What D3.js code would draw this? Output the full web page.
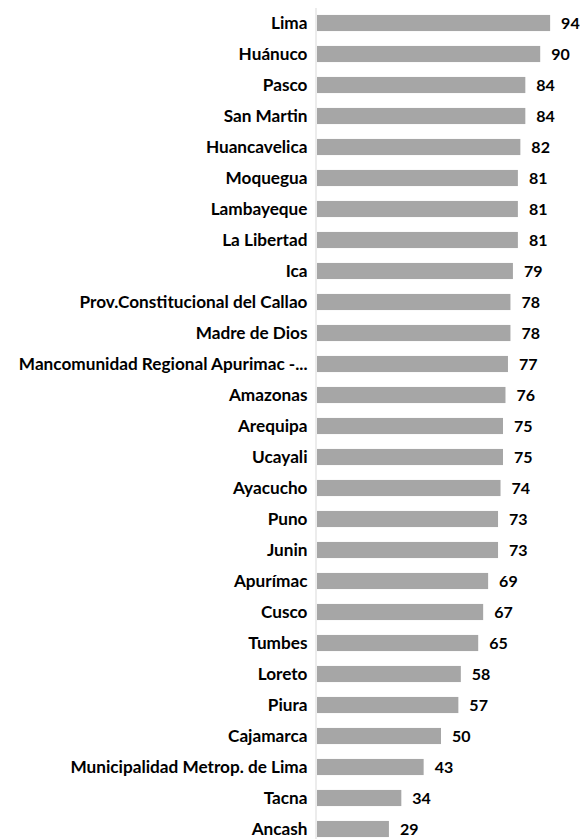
<!DOCTYPE html>
<html>
<head>
<meta charset="utf-8">
<script src="https://cdn.jsdelivr.net/npm/d3@7"></script>
<style>
  html, body { margin: 0; padding: 0; background: #fff; }
  svg { display: block; }
  text { font-family: Lato, "Open Sans", sans-serif; font-weight: 700; fill: #000; }
</style>
</head>
<body>
<svg id="chart" width="580" height="839"></svg>
<script>
// Regions, ordered from highest to lowest score
const regions = [
  "Lima", "Huánuco", "Pasco", "San Martin", "Huancavelica", "Moquegua",
  "Lambayeque", "La Libertad", "Ica", "Prov.Constitucional del Callao",
  "Madre de Dios", "Mancomunidad Regional Apurimac -...", "Amazonas",
  "Arequipa", "Ucayali", "Ayacucho", "Puno", "Junin", "Apurímac", "Cusco",
  "Tumbes", "Loreto", "Piura", "Cajamarca", "Municipalidad Metrop. de Lima",
  "Tacna", "Ancash"
];
const scores = [
  94, 90, 84, 84, 82, 81, 81, 81, 79, 78, 78, 77, 76, 75, 75, 74, 73, 73,
  69, 67, 65, 58, 57, 50, 43, 34, 29
];
const xDomain = [0, 100];

const data = regions.map((name, i) => ({ name, value: scores[i] }));

const svg = d3.select("#chart");
const axisX = 315.5;
const labelSize = 17.2;
const valueSize = 16;

const x = d3.scaleLinear().domain(xDomain).range([axisX + 1.5, axisX + 249.5]);
const y = d3.scaleBand()
  .domain(regions)
  .range([7.5, 844.5])
  .paddingInner(0.48)
  .paddingOuter(0.24);

// Bars
svg.append("g")
  .selectAll("rect")
  .data(data)
  .join("rect")
  .attr("x", x(0))
  .attr("y", d => y(d.name))
  .attr("width", d => x(d.value) - x(0))
  .attr("height", y.bandwidth())
  .attr("fill", "#a6a6a6");

// Category axis
const axis = svg.append("g")
  .attr("transform", `translate(${axisX},0)`)
  .call(d3.axisLeft(y).tickSizeInner(0).tickSizeOuter(0).tickPadding(8));
axis.select(".domain").attr("stroke", "#d9d9d9").attr("stroke-width", 1);
axis.selectAll(".tick text")
  .attr("font-family", "Lato, 'Open Sans', sans-serif")
  .attr("font-weight", 700)
  .attr("font-size", labelSize)
  .attr("fill", "#000")
  .attr("dy", "0.36em");

// Value labels
svg.append("g")
  .selectAll("text")
  .data(data)
  .join("text")
  .attr("x", d => x(d.value) + 11)
  .attr("y", d => y(d.name) + y.bandwidth() / 2)
  .attr("dy", "0.4em")
  .attr("font-size", valueSize)
  .text(d => d.value);
</script>
</body>
</html>
